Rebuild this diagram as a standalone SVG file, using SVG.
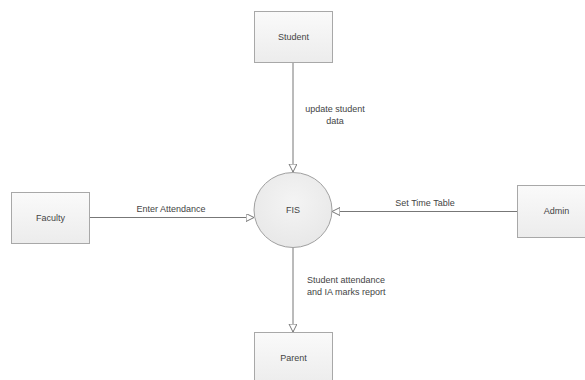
<svg xmlns="http://www.w3.org/2000/svg" width="585" height="380" viewBox="0 0 585 380">
<defs>
<linearGradient id="g" x1="0" y1="0" x2="0" y2="1"><stop offset="0" stop-color="#fafafa"/><stop offset="1" stop-color="#ececec"/></linearGradient>
<radialGradient id="rg" cx="0.5" cy="0.4" r="0.6"><stop offset="0" stop-color="#f4f4f4"/><stop offset="1" stop-color="#e8e8e8"/></radialGradient>
<marker id="arr" markerWidth="10" markerHeight="10" refX="8" refY="4" orient="auto" markerUnits="userSpaceOnUse"><path d="M0,0 L8,4 L0,8 Z" fill="#fff" stroke="#777" stroke-width="1"/></marker>
</defs>
<style>
.box{fill:url(#g);stroke:#a8a8a8;stroke-width:1}
.t{font-family:"Liberation Sans",Arial,sans-serif;font-size:9px;fill:#444}
.c{stroke:#777;stroke-width:1;fill:none}
</style>
<rect width="585" height="380" fill="#fff"/>
<g id="connectors">
<line class="c" x1="293" y1="62" x2="293" y2="172" marker-end="url(#arr)"/>
<line class="c" x1="89" y1="217.5" x2="254" y2="217.5" marker-end="url(#arr)"/>
<line class="c" x1="517" y1="211.5" x2="332" y2="211.5" marker-end="url(#arr)"/>
<line class="c" x1="293" y1="247" x2="293" y2="332" marker-end="url(#arr)"/>
<text class="t" x="335" y="112" text-anchor="middle">update student</text>
<text class="t" x="335" y="124" text-anchor="middle">data</text>
<text class="t" x="171" y="212" text-anchor="middle">Enter Attendance</text>
<text class="t" x="425" y="206" text-anchor="middle">Set Time Table</text>
<text class="t" x="307" y="283">Student attendance</text>
<text class="t" x="307" y="295">and IA marks report</text>
</g>
<g id="student"><rect class="box" x="254.5" y="11.5" width="78" height="51"/><text class="t" x="293.5" y="40" text-anchor="middle">Student</text></g>
<g id="faculty"><rect class="box" x="11.5" y="192.5" width="78" height="51"/><text class="t" x="50.5" y="221" text-anchor="middle">Faculty</text></g>
<g id="admin"><rect class="box" x="517.5" y="185.5" width="78" height="52"/><text class="t" x="556.5" y="214" text-anchor="middle">Admin</text></g>
<g id="parent"><rect class="box" x="254.5" y="332.5" width="78" height="52"/><text class="t" x="293.5" y="361" text-anchor="middle">Parent</text></g>
<g id="fis"><ellipse cx="293" cy="210" rx="39" ry="37.5" fill="url(#rg)" stroke="#a0a0a0"/><text class="t" x="293" y="213" text-anchor="middle">FIS</text></g>
</svg>
